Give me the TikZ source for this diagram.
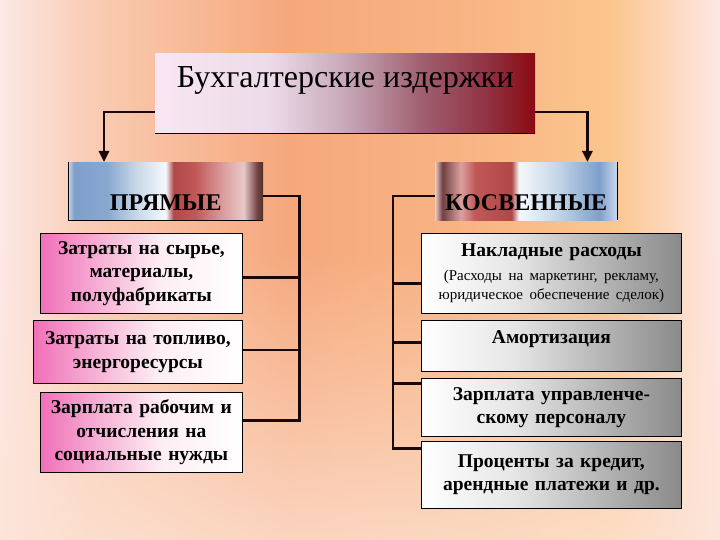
\documentclass[tikz,border=0pt]{standalone}
\usepackage{fontspec}
\setmainfont{Liberation Serif}
\usetikzlibrary{arrows.meta, fadings}
\definecolor{BgPink}{HTML}{FDE8E6}
\definecolor{BgRose}{HTML}{F9CDB5}
\definecolor{BgSalmon}{HTML}{F6A87C}
\definecolor{BgPeach}{HTML}{F8B484}
\definecolor{BgYellow}{HTML}{FBC68E}
\definecolor{BgLight}{HTML}{FDE4D6}
\definecolor{TtlA}{HTML}{F9E6F2}
\definecolor{TtlB}{HTML}{ECDBE8}
\definecolor{TtlC}{HTML}{C8A8B8}
\definecolor{TtlD}{HTML}{A06070}
\definecolor{TtlE}{HTML}{903040}
\definecolor{TtlF}{HTML}{8A0A12}
\definecolor{SteelA}{HTML}{C8D8EC}
\definecolor{SteelB}{HTML}{7F9FCC}
\definecolor{SteelC}{HTML}{C8D8E8}
\definecolor{SteelD}{HTML}{F4F8FC}
\definecolor{SteelE}{HTML}{88A8D0}
\definecolor{WineA}{HTML}{B04848}
\definecolor{WineB}{HTML}{C05858}
\definecolor{WineC}{HTML}{DCA0A0}
\definecolor{WineD}{HTML}{E8C8C8}
\definecolor{WineE}{HTML}{503028}
\definecolor{WineF}{HTML}{704040}
\definecolor{HotPink}{HTML}{F070B8}
\definecolor{SoftPink}{HTML}{F7B2D6}
\definecolor{PalePink}{HTML}{FDEEF4}
\definecolor{MidGray}{HTML}{E6E6E6}
\definecolor{DarkGray}{HTML}{8A8A8A}
\definecolor{LinkColor}{HTML}{1A0808}
\pgfdeclarehorizontalshading{BgShade}{100bp}{color(0bp)=(BgPink); color(25bp)=(BgPink); color(31bp)=(BgRose); color(45bp)=(BgSalmon); color(57.5bp)=(BgPeach); color(67.5bp)=(BgYellow); color(75bp)=(BgPink); color(100bp)=(BgPink)}
\pgfdeclarehorizontalshading{TitleShade}{100bp}{color(0bp)=(TtlA); color(25bp)=(TtlA); color(40bp)=(TtlB); color(50bp)=(TtlC); color(60bp)=(TtlD); color(69bp)=(TtlE); color(75bp)=(TtlF); color(100bp)=(TtlF)}
\pgfdeclarehorizontalshading{DirectShade}{100bp}{color(0bp)=(SteelA); color(25bp)=(SteelA); color(26.5bp)=(SteelB); color(35bp)=(SteelE); color(42.5bp)=(SteelC); color(50bp)=(SteelD); color(52bp)=(WineA); color(57.5bp)=(WineB); color(65bp)=(WineC); color(70bp)=(WineD); color(73.5bp)=(WineF); color(75bp)=(WineE); color(100bp)=(WineE)}
\pgfdeclarehorizontalshading{IndirectShade}{100bp}{color(0bp)=(WineD); color(25bp)=(WineD); color(27bp)=(WineF); color(32bp)=(WineC); color(36bp)=(WineB); color(46bp)=(WineA); color(48bp)=(SteelD); color(58bp)=(SteelC); color(70bp)=(SteelB); color(75bp)=(SteelA); color(100bp)=(SteelA)}
\pgfdeclarehorizontalshading{PinkShade}{100bp}{color(0bp)=(HotPink); color(25bp)=(HotPink); color(40bp)=(SoftPink); color(55bp)=(PalePink); color(75bp)=(white); color(100bp)=(white)}
\pgfdeclarehorizontalshading{GrayShade}{100bp}{color(0bp)=(white); color(25bp)=(white); color(42.5bp)=(MidGray); color(75bp)=(DarkGray); color(100bp)=(DarkGray)}
\tikzfading[name=BottomFade, top color=transparent!100, bottom color=transparent!25]

\begin{document}
\begin{tikzpicture}[x=1pt, y=-1pt,
          Link/.style={LinkColor, line width=2.6pt},
          Arrow/.style={Link, -{Triangle[width=10pt, length=11pt]}},
          Edge/.style={black, line width=0.8pt},
          TitleBox/.style={anchor=north west, shade, shading=TitleShade, inner sep=0pt, minimum width=380pt, text height=34pt, text depth=46pt, font=\fontsize{32}{36}\selectfont},
          HeadBox/.style={anchor=north west, shade, inner sep=0pt, text height=48pt, text depth=10pt, font=\fontsize{24}{28}\selectfont\bfseries},
          PinkBox/.style={anchor=north west, shade, shading=PinkShade, draw=black, line width=0.8pt, inner sep=0pt, align=center, font=\fontsize{19.5}{23.5}\selectfont\bfseries},
          GrayBox/.style={anchor=north west, shade, shading=GrayShade, draw=black, line width=0.8pt, inner sep=0pt, text width=260pt, align=center, font=\fontsize{19.5}{23.5}\selectfont\bfseries},
          Remark/.style={font=\mdseries\fontsize{15}{18}\selectfont}]
          \useasboundingbox (0,0) rectangle (720,540);
          \shade[shading=BgShade] (0,0) rectangle (720,540);
          \fill[BgLight, path fading=BottomFade] (0,250) rectangle (720,540);
          % header boxes
          \node[TitleBox] (ttl) at (155,53) {Бухгалтерские издержки};
          \node[HeadBox, shading=DirectShade, minimum width=195pt] (prm) at (68,162) {ПРЯМЫЕ};
          \node[HeadBox, shading=IndirectShade, minimum width=182pt] (ksv) at (435,162) {КОСВЕННЫЕ};
          \draw[Edge] (ttl.south west) -- (ttl.south east);
          \draw[Edge] (prm.north west) |- (prm.south east);
          \draw[Edge] (ksv.north east) -- (ksv.south east);
          % direct costs
          \node[PinkBox, text width=202pt, minimum height=80pt] (l1) at (40,233) {Затраты на сырье,\\материалы,\\полуфабрикаты};
          \node[PinkBox, text width=209pt, minimum height=63pt] (l2) at (33,320) {Затраты на топливо,\\энергоресурсы};
          \node[PinkBox, text width=202pt, minimum height=80pt] (l3) at (40,392) {Зарплата рабочим и\\отчисления на\\социальные нужды};
          % indirect costs
          \node[GrayBox, minimum height=80pt] (r1) at (421,233) {Накладные расходы\\{\mdseries\fontsize{15}{18}\selectfont (Расходы на маркетинг, рекламу,}\\[-4pt]{\mdseries\fontsize{15}{18}\selectfont юридическое обеспечение сделок)}};
          \node[GrayBox, text height=23pt, text depth=28pt] (r2) at (421,320) {Амортизация};
          \node[GrayBox, minimum height=58pt] (r3) at (421,378) {Зарплата управленче-\\скому персоналу};
          \node[GrayBox, minimum height=67pt] (r4) at (421,441) {Проценты за кредит,\\арендные платежи и др.};
          % connectors
          \draw[Arrow] ([yshift=-19pt]ttl.west) -| ([xshift=36pt]prm.north west);
          \draw[Arrow] ([yshift=-19pt]ttl.east) -| ([xshift=-30pt]ksv.north east);
          \coordinate (lbus) at ([xshift=36pt, yshift=-5pt]prm.east);
          \draw[Link] ([yshift=-5pt]prm.east) -- (lbus) |- ([yshift=12pt]l3.east);
          \foreach \b/\s in {l1/-4, l2/2}
            \draw[Link] ([yshift=\s pt]\b.east) -| (lbus);
          \coordinate (rbus) at ([xshift=-42pt, yshift=-5pt]ksv.west);
          \draw[Link] ([yshift=-5pt]ksv.west) -- (rbus) |- ([yshift=26.5pt]r4.west);
          \foreach \b/\s in {r1/-10, r2/3.5, r3/24}
            \draw[Link] ([yshift=\s pt]\b.west) -| (rbus);
\end{tikzpicture}
\end{document}
